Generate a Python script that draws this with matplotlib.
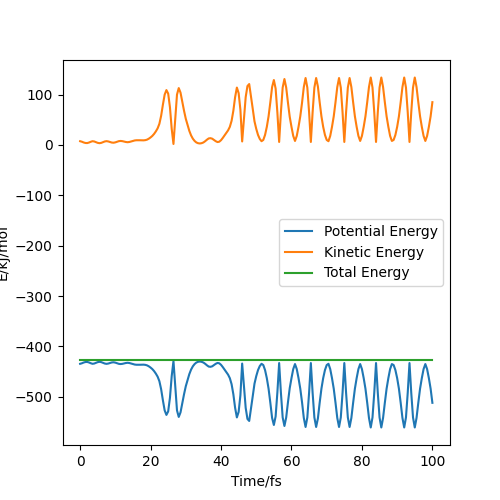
import numpy as np
import matplotlib
matplotlib.use("Agg")
import matplotlib.pyplot as plt

# Kinetic energy (kJ/mol), sampled every 0.5 fs from 0 to 100 fs
kinetic_energy = [
    7.5, 6.5, 5.0, 4.0, 3.8, 4.8, 6.3, 7.5, 7.0, 5.6,
    4.2, 3.6, 4.2, 5.6, 7.0, 7.6, 7.0, 5.8, 4.8, 4.5,
    5.2, 6.5, 7.6, 8.0, 7.6, 6.8, 5.9, 5.5, 6.0, 7.0,
    8.2, 9.0, 9.4, 9.5, 9.4, 9.2, 9.2, 9.6, 10.6, 12.5,
    15, 18, 22, 27, 33, 42, 58, 80, 100, 109,
    102, 75, 32, 2, 52, 100, 113, 104, 86, 68,
    52, 40, 28, 19, 12.5, 8, 5, 3.5, 3, 3.6,
    5, 7.5, 10.5, 13, 13.5, 12.5, 10, 7.5, 5.8, 6.5,
    9.5, 14, 19, 24, 29, 36, 48, 68, 95, 114,
    103, 70, 7, 52, 95, 117, 121, 97, 72, 47,
    32, 20, 12, 7.5, 10, 20, 36, 57, 85, 115,
    129, 112, 64, 6, 65, 114, 131, 114, 84, 56,
    36, 18, 8, 18, 36, 57, 84, 115, 133, 114,
    65, 6, 65, 114, 133, 116, 85, 57, 36, 20,
    10, 7.5, 18, 36, 57, 85, 115, 133, 114, 65,
    6, 65, 114, 133, 115, 85, 57, 36, 18, 8,
    18, 36, 57, 85, 115, 134, 114, 65, 6, 65,
    114, 134, 115, 85, 57, 36, 18, 8, 10, 20,
    36, 57, 85, 115, 134, 114, 65, 6, 65, 114,
    134, 115, 85, 57, 36, 18, 8, 18, 36, 57,
    85,
]

# Potential energy (kJ/mol)
potential_energy = [
    -434.5, -433.5, -432.0, -431.0, -430.8, -431.8, -433.3, -434.5, -434.0, -432.6,
    -431.2, -430.6, -431.2, -432.6, -434.0, -434.6, -434.0, -432.8, -431.8, -431.5,
    -432.2, -433.5, -434.6, -435.0, -434.6, -433.8, -432.9, -432.5, -433.0, -434.0,
    -435.2, -436.0, -436.4, -436.5, -436.4, -436.2, -436.2, -436.6, -437.6, -439.5,
    -442, -445, -449, -454, -460, -469, -485, -507, -527, -536,
    -529, -502, -459, -429, -479, -527, -540, -531, -513, -495,
    -479, -467, -455, -446, -439.5, -435, -432, -430.5, -430, -430.6,
    -432, -434.5, -437.5, -440, -440.5, -439.5, -437, -434.5, -432.8, -433.5,
    -436.5, -441, -446, -451, -456, -463, -475, -495, -522, -541,
    -530, -497, -434, -479, -522, -544, -548, -524, -499, -474,
    -459, -447, -439, -434.5, -437, -447, -463, -484, -512, -542,
    -556, -539, -491, -433, -492, -541, -558, -541, -511, -483,
    -463, -445, -435, -445, -463, -484, -511, -542, -560, -541,
    -492, -433, -492, -541, -560, -543, -512, -484, -463, -447,
    -437, -434.5, -445, -463, -484, -512, -542, -560, -541, -492,
    -433, -492, -541, -560, -542, -512, -484, -463, -445, -435,
    -445, -463, -484, -512, -542, -561, -541, -492, -433, -492,
    -541, -561, -542, -512, -484, -463, -445, -435, -437, -447,
    -463, -484, -512, -542, -561, -541, -492, -433, -492, -541,
    -561, -542, -512, -484, -463, -445, -435, -445, -463, -484,
    -512,
]

# Total energy (kJ/mol)
total_energy = [
    -427.0, -427.0, -427.0, -427.0, -427.0, -427.0, -427.0, -427.0, -427.0, -427.0,
    -427.0, -427.0, -427.0, -427.0, -427.0, -427.0, -427.0, -427.0, -427.0, -427.0,
    -427.0, -427.0, -427.0, -427.0, -427.0, -427.0, -427.0, -427.0, -427.0, -427.0,
    -427.0, -427.0, -427.0, -427.0, -427.0, -427.0, -427.0, -427.0, -427.0, -427.0,
    -427.0, -427.0, -427.0, -427.0, -427.0, -427.0, -427.0, -427.0, -427.0, -427.0,
    -427.0, -427.0, -427.0, -427.0, -427.0, -427.0, -427.0, -427.0, -427.0, -427.0,
    -427.0, -427.0, -427.0, -427.0, -427.0, -427.0, -427.0, -427.0, -427.0, -427.0,
    -427.0, -427.0, -427.0, -427.0, -427.0, -427.0, -427.0, -427.0, -427.0, -427.0,
    -427.0, -427.0, -427.0, -427.0, -427.0, -427.0, -427.0, -427.0, -427.0, -427.0,
    -427.0, -427.0, -427.0, -427.0, -427.0, -427.0, -427.0, -427.0, -427.0, -427.0,
    -427.0, -427.0, -427.0, -427.0, -427.0, -427.0, -427.0, -427.0, -427.0, -427.0,
    -427.0, -427.0, -427.0, -427.0, -427.0, -427.0, -427.0, -427.0, -427.0, -427.0,
    -427.0, -427.0, -427.0, -427.0, -427.0, -427.0, -427.0, -427.0, -427.0, -427.0,
    -427.0, -427.0, -427.0, -427.0, -427.0, -427.0, -427.0, -427.0, -427.0, -427.0,
    -427.0, -427.0, -427.0, -427.0, -427.0, -427.0, -427.0, -427.0, -427.0, -427.0,
    -427.0, -427.0, -427.0, -427.0, -427.0, -427.0, -427.0, -427.0, -427.0, -427.0,
    -427.0, -427.0, -427.0, -427.0, -427.0, -427.0, -427.0, -427.0, -427.0, -427.0,
    -427.0, -427.0, -427.0, -427.0, -427.0, -427.0, -427.0, -427.0, -427.0, -427.0,
    -427.0, -427.0, -427.0, -427.0, -427.0, -427.0, -427.0, -427.0, -427.0, -427.0,
    -427.0, -427.0, -427.0, -427.0, -427.0, -427.0, -427.0, -427.0, -427.0, -427.0,
    -427.0,
]

time_fs = np.linspace(0, 100, len(kinetic_energy))

fig, ax = plt.subplots(figsize=(5, 5), dpi=100)
ax.plot(time_fs, potential_energy, label="Potential Energy")
ax.plot(time_fs, kinetic_energy, label="Kinetic Energy")
ax.plot(time_fs, total_energy, label="Total Energy")
ax.set_xlabel("Time/fs")
ax.set_ylabel("E/kJ/mol")
ax.legend(loc="center right")
fig.savefig("out.png", dpi=100)
